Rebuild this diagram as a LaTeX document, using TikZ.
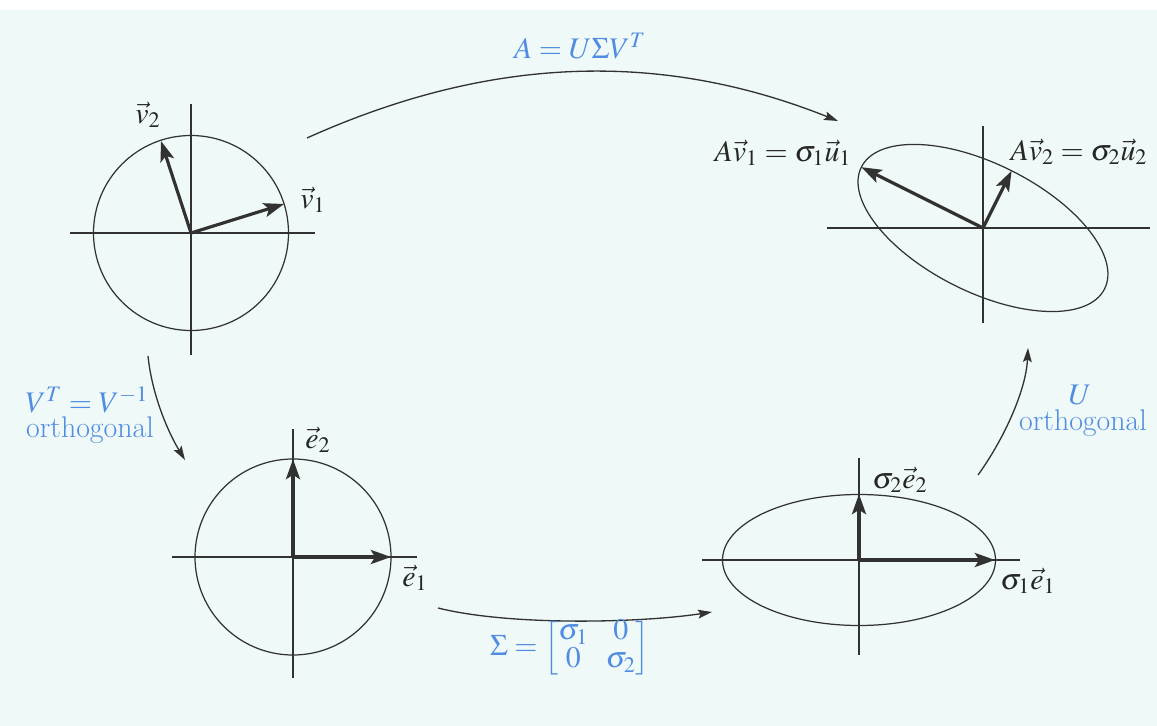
\documentclass[tikz,border=0pt]{standalone}
\usepackage{amsmath}
\usepackage{mathptmx}
\usetikzlibrary{arrows.meta}
\definecolor{bgc}{RGB}{239,249,247}
\definecolor{lblue}{RGB}{80,140,225}
\definecolor{ink}{RGB}{50,50,50}
\begin{document}
\begin{tikzpicture}[x=0.02cm,y=-0.02cm,
  axisline/.style={ink, line width=0.7pt},
  shapeline/.style={ink, line width=0.7pt},
  vecarrow/.style={ink, line width=1.8pt, -{Stealth[length=11.5pt,width=8pt,inset=2.5pt]}},
  flowarrow/.style={ink, line width=0.75pt, -{Stealth[length=8pt,width=5pt,inset=1.5pt]}},
  lbl/.style={font=\fontsize{17}{20}\selectfont, inner sep=0pt, text=black!85},
  blbl/.style={lbl, text=lblue}]
\useasboundingbox (0,0) rectangle (1157,726);
\fill[white] (0,0) rectangle (1157,726);
\fill[bgc] (0,10) rectangle (1157,726);

% ---- top-left: unit circle with v1, v2
\coordinate (O1) at (191,233);
\coordinate (v1tip) at (284,204);
\coordinate (v2tip) at (161,141);
\draw[axisline] (O1) ++(-121,0) -- ++(245,0);
\draw[axisline] (O1) ++(0,-129) -- ++(0,251);
\draw[shapeline] (O1) circle [radius=97.5];
\draw[vecarrow] (O1) -- (v1tip);
\draw[vecarrow] (O1) -- (v2tip);
\node[lbl] (lv1) at (313,200) {$\vec{v}_1$};
\node[lbl] (lv2) at (148,115) {$\vec{v}_2$};

% ---- bottom-left: unit circle with e1, e2
\coordinate (O2) at (293,557);
\coordinate (e1tip) at (391,557);
\coordinate (e2tip) at (293,459);
\draw[axisline] (O2) ++(-121,0) -- ++(245,0);
\draw[axisline] (O2) ++(0,-128) -- ++(0,249);
\draw[shapeline] (O2) circle [radius=98];
\draw[vecarrow] (O2) -- (e1tip);
\draw[vecarrow] (O2) -- (e2tip);
\node[lbl] (le1) at (415,578) {$\vec{e}_1$};
\node[lbl] (le2) at (318,440) {$\vec{e}_2$};

% ---- bottom-right: axis-aligned ellipse
\coordinate (O4) at (859,560);
\coordinate (s1tip) at (995,560);
\coordinate (s2tip) at (859,494);
\draw[axisline] (O4) ++(-157,0) -- ++(318,0);
\draw[axisline] (O4) ++(0,-102) -- ++(0,197);
\draw[shapeline] (O4) ellipse [x radius=136.5, y radius=65.5];
\draw[vecarrow] (O4) -- (s1tip);
\draw[vecarrow] (O4) -- (s2tip);
\node[lbl] (ls1) at (1028,581) {$\sigma_1\vec{e}_1$};
\node[lbl] (ls2) at (900,480) {$\sigma_2\vec{e}_2$};

% ---- top-right: rotated ellipse
\coordinate (O3) at (983,228);
\coordinate (u1tip) at (861.4,167.2);
\coordinate (u2tip) at (1011.6,170.8);
\draw[axisline] (O3) ++(-156,0) -- ++(323,0);
\draw[axisline] (O3) ++(0,-102) -- ++(0,197);
\draw[shapeline, rotate around={-26.6:(O3)}] (O3) ellipse [x radius=136, y radius=64];
\draw[vecarrow] (O3) -- (u1tip);
\draw[vecarrow] (O3) -- (u2tip);
\node[lbl] (lu1) at (783,153) {$A\vec{v}_1 = \sigma_1\vec{u}_1$};
\node[lbl] (lu2) at (1079,152) {$A\vec{v}_2 = \sigma_2\vec{u}_2$};

% ---- transformation arrows
\coordinate (topA) at (307,138);
\coordinate (topB) at (838,121);
\draw[flowarrow] (topA) .. controls (487,57) and (658,49) .. (topB);
\node[blbl] (lA) at (580,46) {$A = U\Sigma V^T$};

\coordinate (leftA) at (148,356);
\coordinate (leftB) at (185,460);
\draw[flowarrow] (leftA) .. controls (152,395) and (168,432) .. (leftB);
\node[blbl] (lV) at (87,400) {$V^T = V^{-1}$};
\node[blbl] (lVo) at (90,430) {orthogonal};

\coordinate (botA) at (438,608);
\coordinate (botB) at (712,612);
\draw[flowarrow] (botA) .. controls (510,626) and (640,623) .. (botB);
\node[blbl] (lS) at (570,648) {\renewcommand{\arraystretch}{0.78}$\Sigma = \begin{bmatrix}\sigma_1 & 0\\ 0 & \sigma_2\end{bmatrix}$};

\coordinate (rightA) at (978,475);
\coordinate (rightB) at (1028,348);
\draw[flowarrow] (rightA) .. controls (1002,442) and (1026,392) .. (rightB);
\node[blbl] (lU) at (1080,395) {$U$};
\node[blbl] (lUo) at (1083,423) {orthogonal};
\end{tikzpicture}
\end{document}
